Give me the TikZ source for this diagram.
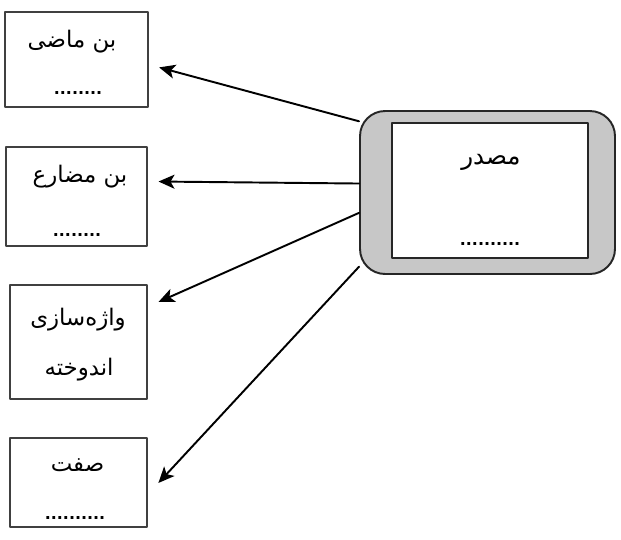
\documentclass[tikz,border=0pt]{standalone}
\usepackage{fontspec}
\newfontfamily\arabicfont[Script=Arabic]{DejaVu Sans}
\TeXXeTstate=1
\usetikzlibrary{arrows.meta}

\begin{document}
\begin{tikzpicture}[x=0.02cm, y=-0.02cm, line cap=round, line join=round,
  wordbox/.style={draw=black!75, line width=0.6pt, inner sep=0pt},
  word/.style={font=\arabicfont\fontsize{13}{15}\selectfont, inner sep=0pt},
  dotrow/.style={font=\arabicfont\fontsize{9}{10}\selectfont\bfseries, inner sep=0pt},
  arrowline/.style={line width=1.1pt, -{Stealth[length=3.2mm, width=2.8mm, inset=0.8mm]}}]

% Fix the frame of the picture
\useasboundingbox (0,0) rectangle (621,539);

% Define the source box (grey frame with white card)
\node[draw=black!85, line width=1.1pt, fill=black!22, rounded corners=0.5cm,
      minimum width=5.1cm, minimum height=3.26cm] (src) at (487.5,192.5) {};
\node[draw=black!85, line width=0.8pt, fill=white,
      minimum width=3.92cm, minimum height=2.7cm] (card) at (490,190.5) {};

% Define the four target boxes
\node[wordbox, minimum width=2.86cm, minimum height=1.9cm] (b1) at (76.5,59.5) {};
\node[wordbox, minimum width=2.82cm, minimum height=1.98cm] (b2) at (76.5,196.5) {};
\node[wordbox, minimum width=2.74cm, minimum height=2.28cm] (b3) at (78.5,342) {};
\node[wordbox, minimum width=2.74cm, minimum height=1.78cm] (b4) at (78.5,482.5) {};

% Draw arrows from the source to each box
\draw[arrowline, shorten >=0.22cm] (src.151) -- (b1.-4);
\draw[arrowline, shorten >=0.22cm] (src.176.6) -- (b2.12);
\draw[arrowline, shorten >=0.24cm] (src.189) -- (b3.27);
\draw[arrowline, shorten >=0.32cm] (src.210.6) -- (b4.-10);

% Label the boxes exactly as shown in the image
\node[word] (srcname) at (491,162) {\fontsize{14}{16}\selectfont\beginR مصدر\endR};
\node[dotrow] (srcdots) at (490,244) {..........};
\node[word] (b1name) at (72,42) {\beginR بن ماضی\endR};
\node[dotrow] (b1dots) at (78,93) {........};
\node[word] (b2name) at (80,177) {\beginR بن مضارع\endR};
\node[dotrow] (b2dots) at (77,235) {........};
\node[word] (b3name) at (78,320) {\beginR واژه‌سازی\endR};
\node[word] (b3more) at (79,370) {\beginR اندوخته\endR};
\node[word] (b4name) at (77.5,465) {\beginR صفت\endR};
\node[dotrow] (b4dots) at (75,518) {..........};

\end{tikzpicture}
\end{document}
